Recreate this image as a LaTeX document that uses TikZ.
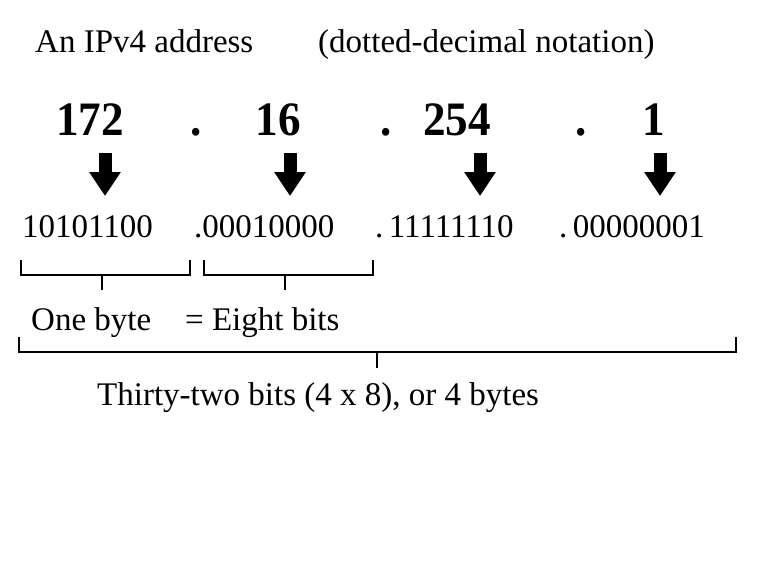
\documentclass[tikz,border=0pt]{standalone}
\usepackage{fontspec}
\setmainfont{Liberation Serif}
\usetikzlibrary{arrows.meta}

\tikzset{
  txt/.style={anchor=base west, inner sep=0pt, font=\fontsize{33}{40}\selectfont},
  num/.style={anchor=base, inner sep=0pt, font=\fontsize{48}{52}\selectfont\bfseries, xscale=0.94},
  bitarrow/.style={line width=13pt, -{Triangle[width=30pt,length=24pt]}},
  brace/.style={line width=2pt}
}

\begin{document}
\begin{tikzpicture}[x=1pt, y=-1pt]
\useasboundingbox (0,0) rectangle (768,571);

\node[txt] (title) at (35,52) {An IPv4 address};
\node[txt] (note) at (318,52) {(dotted-decimal notation)};

\node[num] (n1) at (90,135) {172};
\node[num] (d1) at (196,135) {.};
\node[num] (n2) at (278,135) {16};
\node[num] (d2) at (386,135) {.};
\node[num] (n3) at (457,135) {254};
\node[num] (d3) at (581,135) {.};
\node[num] (n4) at (654,135) {1};

\coordinate (a1) at (105,153); \coordinate (b1) at (105,196);
\coordinate (a2) at (290,153); \coordinate (b2) at (290,196);
\coordinate (a3) at (480,153); \coordinate (b3) at (480,196);
\coordinate (a4) at (660,153); \coordinate (b4) at (660,196);
\draw[bitarrow] (a1) -- (b1);
\draw[bitarrow] (a2) -- (b2);
\draw[bitarrow] (a3) -- (b3);
\draw[bitarrow] (a4) -- (b4);

\node[txt] (bin1) at (22,237) {10101100};
\node[txt] (bin2) at (194,237) {.00010000};
\node[txt] (bin3) at (375,237) {.\,11111110};
\node[txt] (bin4) at (559,237) {.\,00000001};

\draw[brace] (21,260) |- (190,275) -- (190,260);
\draw[brace] (102,275) -- (102,290);
\draw[brace] (204,260) |- (373,275) -- (373,260);
\draw[brace] (285,275) -- (285,290);

\node[txt] (byte) at (31,330) {One byte};
\node[txt] (eight) at (185,330) {= Eight bits};

\draw[brace] (19,337) |- (736,352) -- (736,337);
\draw[brace] (377,352) -- (377,368);

\node[txt] (total) at (97,405) {Thirty-two bits (4 x 8), or 4 bytes};

\end{tikzpicture}
\end{document}
